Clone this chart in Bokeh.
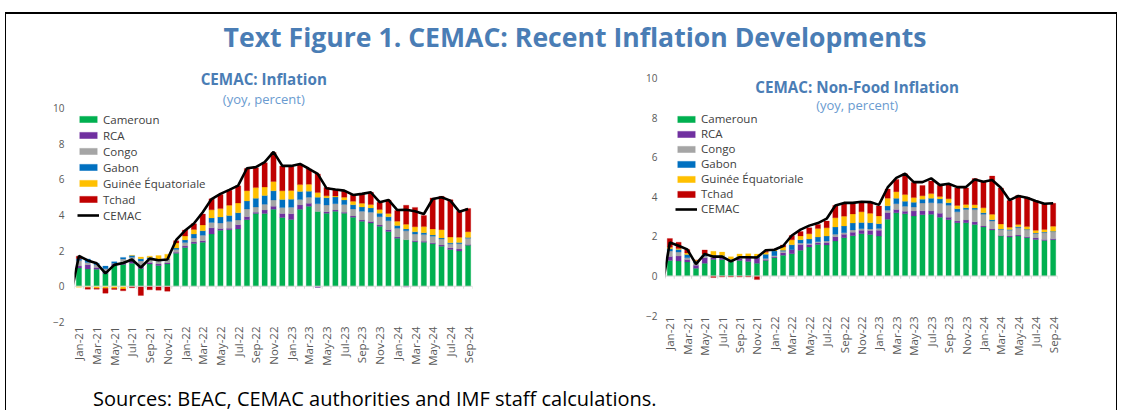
import numpy as np
from bokeh.plotting import figure
from bokeh.models import Range1d, FixedTicker, Label, Div, Legend, LegendItem
from bokeh.layouts import column, row
from bokeh.embed import file_html
from bokeh.resources import INLINE

months = ["Jan-21", "Feb-21", "Mar-21", "Apr-21", "May-21", "Jun-21", "Jul-21", "Aug-21", "Sep-21", "Oct-21", "Nov-21", "Dec-21",
          "Jan-22", "Feb-22", "Mar-22", "Apr-22", "May-22", "Jun-22", "Jul-22", "Aug-22", "Sep-22", "Oct-22", "Nov-22", "Dec-22",
          "Jan-23", "Feb-23", "Mar-23", "Apr-23", "May-23", "Jun-23", "Jul-23", "Aug-23", "Sep-23", "Oct-23", "Nov-23", "Dec-23",
          "Jan-24", "Feb-24", "Mar-24", "Apr-24", "May-24", "Jun-24", "Jul-24", "Aug-24", "Sep-24"]

series_names = ["Cameroun", "RCA", "Congo", "Gabon", "Guinée Équatoriale", "Tchad"]
series_colors = ["#00B050", "#7030A0", "#A5A5A5", "#0070C0", "#FFC000", "#C00000"]

# ---- Headline inflation (left) ----
cameroun_all = [1.03, 0.97, 0.95, 0.72, 1.16, 1.22, 1.29, 0.99, 1.25, 1.16, 1.25, 1.85, 2.17, 2.40, 2.47, 2.94, 3.14, 3.17, 3.22, 3.74, 4.08, 4.08, 4.33,
                3.86, 3.75, 4.33, 4.49, 4.20, 4.10, 4.21, 4.10, 3.88, 3.65, 3.55, 3.37, 3.07, 2.70, 2.61, 2.50, 2.47, 2.38, 2.25, 2.07, 1.98, 2.30]
rca_all = [0.11, 0.24, 0.10, 0.17, 0.09, 0.09, 0.15, 0.13, 0.09, 0.09, 0.06, 0.06, 0.09, 0.09, 0.09, 0.34, 0.11, 0.09, 0.24, 0.17, 0.07, 0.20, 0.17,
           0.22, 0.32, 0.24, 0.17, -0.07, 0.09, 0.07, 0.06, 0.07, 0.07, 0.09, 0.07, 0.11, 0.06, -0.05, 0.06, 0.06, 0.06, 0.06, 0.09, 0.11, 0.04]
congo_all = [0.30, 0.13, 0.15, 0.09, 0.04, 0.22, 0.19, 0.30, 0.19, 0.19, 0.20, 0.15, 0.19, 0.22, 0.30, 0.30, 0.30, 0.37, 0.26, 0.43, 0.30, 0.32, 0.34,
             0.34, 0.37, 0.30, 0.34, 0.43, 0.37, 0.36, 0.43, 0.39, 0.49, 0.52, 0.47, 0.50, 0.50, 0.50, 0.37, 0.37, 0.37, 0.34, 0.22, 0.30, 0.36]
gabon_all = [0.10, 0.19, 0.09, 0.15, 0.09, 0.09, 0.09, 0.13, 0.09, 0.04, 0.03, 0.09, 0.15, 0.22, 0.26, 0.26, 0.34, 0.34, 0.41, 0.45, 0.49, 0.50, 0.52,
             0.45, 0.45, 0.45, 0.34, 0.37, 0.41, 0.37, 0.26, 0.24, 0.24, 0.24, 0.19, 0.22, 0.15, 0.11, 0.13, 0.11, 0.07, 0.06, 0.06, 0.06, 0.04]
guinee_all = [-0.06, -0.07, -0.11, -0.11, -0.11, -0.15, 0.02, 0.09, 0.07, 0.24, 0.26, 0.28, 0.22, 0.26, 0.32, 0.45, 0.47, 0.58, 0.54, 0.58, 0.60, 0.47, 0.52,
              0.49, 0.49, 0.39, 0.39, 0.26, 0.11, 0.06, 0.15, 0.19, 0.21, 0.19, 0.21, 0.19, 0.24, 0.26, 0.28, 0.34, 0.34, 0.47, 0.32, 0.30, 0.32]
tchad_all = [0.15, -0.10, -0.06, -0.28, -0.07, -0.11, -0.09, -0.52, -0.20, -0.22, -0.28, 0.13, 0.34, 0.32, 0.62, 0.62, 0.80, 0.84, 0.97, 1.25, 1.12, 1.37, 1.63,
             1.39, 1.39, 1.14, 0.86, 1.05, 0.47, 0.34, 0.34, 0.36, 0.52, 0.69, 0.41, 0.75, 0.60, 1.07, 1.09, 0.62, 1.74, 1.87, 2.10, 1.46, 1.31]
cemac_all = [1.70, 1.45, 1.29, 0.72, 1.20, 1.31, 1.50, 1.05, 1.55, 1.46, 1.50, 2.60, 3.13, 3.52, 4.16, 4.90, 5.19, 5.41, 5.65, 6.63, 6.69, 6.97, 7.55,
             6.76, 6.76, 6.87, 6.60, 6.31, 5.50, 5.43, 5.37, 5.13, 5.19, 5.28, 4.72, 4.85, 4.28, 4.30, 4.21, 4.06, 4.90, 5.00, 4.81, 4.19, 4.34]
cemac_all_dec20 = -0.7

# ---- Non-food inflation (right) ----
cameroun_nf = [0.79, 0.76, 0.71, 0.39, 0.64, 0.84, 0.83, 0.71, 0.79, 0.73, 0.64, 0.78, 0.93, 1.05, 1.13, 1.30, 1.47, 1.60, 1.57, 1.77, 1.94, 2.04, 2.14,
               2.10, 2.02, 2.87, 3.20, 3.15, 3.04, 3.10, 3.12, 2.98, 2.85, 2.70, 2.70, 2.61, 2.48, 2.33, 2.02, 1.97, 2.02, 1.94, 1.85, 1.80, 1.84]
rca_nf = [0.20, 0.25, 0.13, 0.15, 0.29, 0.08, 0.10, 0.04, 0.10, 0.20, 0.27, 0.05, 0.05, 0.13, 0.20, 0.30, 0.13, 0.08, 0.12, 0.22, 0.17, 0.17, 0.17,
          0.20, 0.29, 0.34, 0.17, 0.13, 0.25, 0.20, 0.17, 0.20, 0.13, 0.08, 0.13, 0.13, 0.05, 0.05, 0.03, 0.05, 0.05, 0.05, 0.08, 0.05, 0.05]
congo_nf = [0.27, 0.20, 0.08, 0.13, 0.08, 0.08, 0.08, 0.08, 0.07, 0.05, 0.00, 0.05, 0.05, 0.07, -0.03, 0.07, 0.05, 0.05, 0.08, 0.12, 0.08, 0.12, 0.08,
            0.08, 0.10, 0.12, 0.29, 0.25, 0.20, 0.39, 0.42, 0.50, 0.60, 0.47, 0.54, 0.62, 0.59, 0.40, 0.30, 0.30, 0.37, 0.35, 0.22, 0.35, 0.35]
gabon_nf = [0.12, 0.13, 0.17, 0.08, 0.08, 0.05, 0.03, 0.02, 0.03, 0.03, 0.10, 0.22, 0.24, 0.05, 0.25, 0.17, 0.22, 0.24, 0.25, 0.37, 0.34, 0.35, 0.32,
            0.32, 0.24, 0.22, 0.27, 0.25, 0.24, 0.20, 0.22, 0.22, 0.13, 0.15, 0.08, 0.08, 0.08, 0.07, 0.03, 0.03, 0.05, 0.03, 0.03, 0.03, 0.03]
guinee_nf = [0.08, 0.05, 0.08, 0.05, 0.03, 0.20, 0.17, 0.13, 0.13, 0.12, 0.10, 0.10, 0.08, 0.17, 0.25, 0.19, 0.27, 0.44, 0.42, 0.47, 0.50, 0.46, 0.54,
             0.47, 0.39, 0.39, 0.34, 0.34, 0.24, 0.17, 0.24, 0.13, 0.20, 0.17, 0.17, 0.17, 0.25, 0.27, 0.25, 0.12, 0.12, 0.13, 0.13, 0.13, 0.25]
tchad_nf = [0.44, 0.32, 0.17, 0.00, 0.20, -0.08, -0.05, -0.05, -0.05, -0.05, -0.18, 0.05, 0.00, 0.10, 0.22, 0.22, 0.30, 0.20, 0.34, 0.62, 0.62, 0.54, 0.50,
            0.57, 0.50, 0.46, 0.62, 1.05, 0.76, 0.52, 0.64, 0.56, 0.74, 0.89, 0.84, 1.32, 1.35, 1.94, 1.82, 1.35, 1.47, 1.48, 1.50, 1.28, 1.16]
cemac_nf = [1.70, 1.53, 1.35, 0.60, 1.12, 0.98, 0.98, 0.74, 0.95, 0.95, 0.94, 1.30, 1.33, 1.52, 2.05, 2.35, 2.55, 2.68, 2.90, 3.57, 3.70, 3.70, 3.76,
            3.74, 3.60, 4.48, 4.97, 5.18, 4.75, 4.75, 4.94, 4.60, 4.67, 4.50, 4.50, 4.89, 4.77, 4.86, 4.47, 3.84, 4.05, 3.96, 3.80, 3.66, 3.68]
cemac_nf_dec20 = -0.85

y_ticks = [-2, 0, 2, 4, 6, 8, 10]
FONT = "Open Sans"
TITLE_BLUE = "#4A7DB5"
SUB_BLUE = "#6A9BD0"


def make_chart(series, cemac, cemac_lead, title, ytop, fw, fh, mbl, mbr, mbt, mbb,
               legend_xy, item_h, title_x, title_y, sub_y, title_size, sub_size, ystandoff, xstandoff):
    n = len(months)
    x = np.arange(n)
    p = figure(frame_width=fw, frame_height=fh, min_border_left=mbl, min_border_right=mbr,
               min_border_top=mbt, min_border_bottom=mbb, x_range=Range1d(-0.5, n - 0.5),
               y_range=Range1d(-2.15, ytop), output_backend="svg", toolbar_location=None,
               background_fill_color="white", border_fill_color="white")
    p.outline_line_color = None
    p.grid.visible = False

    pos = np.zeros(n)
    neg = np.zeros(n)
    items = []
    for name, col, vals in zip(series_names, series_colors, series):
        v = np.array(vals, dtype=float)
        bottom = np.where(v >= 0, pos, neg)
        top = bottom + v
        pos = np.where(v >= 0, pos + v, pos)
        neg = np.where(v < 0, neg + v, neg)
        r = p.vbar(x=x, bottom=bottom, top=top, width=0.6, fill_color=col, line_color=col, line_alpha=0.25, line_width=1)
        items.append(LegendItem(label=name, renderers=[r]))

    # zero axis line and tick marks between categories
    edges = np.arange(n + 1) - 0.5
    p.segment(x0=[-0.5], y0=[0], x1=[n - 0.5], y1=[0], line_color="#D9D9D9", line_width=1)
    p.segment(x0=edges, y0=np.zeros(n + 1), x1=edges, y1=np.full(n + 1, -0.14), line_color="#D9D9D9", line_width=1)

    lx = np.concatenate([[-1], x])
    ly = np.concatenate([[cemac_lead], cemac])
    rl = p.line(lx, ly, line_color="black", line_width=2.6)
    items.append(LegendItem(label="CEMAC", renderers=[rl]))

    leg = Legend(items=items, location=legend_xy, orientation="vertical")
    leg.background_fill_alpha = 0
    leg.border_line_color = None
    leg.padding = 0
    leg.margin = 0
    leg.spacing = 0
    leg.glyph_width = 22
    leg.glyph_height = 8
    leg.label_height = item_h
    leg.label_standoff = 4
    leg.label_text_font = FONT
    leg.label_text_font_size = "11.5px"
    leg.label_text_color = "#404040"
    leg.label_text_baseline = "middle"
    p.add_layout(leg, "center")

    p.add_layout(Label(x=title_x, y=title_y, text=title, text_align="center", text_baseline="middle",
                       text_font=FONT, text_font_style="bold", text_font_size=title_size, text_color=TITLE_BLUE))
    p.add_layout(Label(x=title_x, y=sub_y, text="(yoy, percent)", text_align="center", text_baseline="middle",
                       text_font=FONT, text_font_size=sub_size, text_color=SUB_BLUE))

    p.yaxis.ticker = FixedTicker(ticks=y_ticks)
    p.yaxis.axis_line_color = None
    p.yaxis.major_tick_line_color = None
    p.yaxis.major_tick_out = 0
    p.yaxis.major_tick_in = 0
    p.yaxis.minor_tick_line_color = None
    p.yaxis.major_label_standoff = ystandoff
    p.yaxis.major_label_text_font = FONT
    p.yaxis.major_label_text_font_size = "10px"
    p.yaxis.major_label_text_color = "#595959"

    p.xaxis.ticker = FixedTicker(ticks=list(range(0, n, 2)))
    p.xaxis.major_label_overrides = {i: months[i] for i in range(0, n, 2)}
    p.xaxis.major_label_orientation = np.pi / 2
    p.xaxis.axis_line_color = None
    p.xaxis.major_tick_line_color = None
    p.xaxis.major_tick_out = 0
    p.xaxis.major_tick_in = 0
    p.xaxis.minor_tick_line_color = None
    p.xaxis.major_label_standoff = xstandoff
    p.xaxis.major_label_text_font = FONT
    p.xaxis.major_label_text_font_size = "11.5px"
    p.xaxis.major_label_text_color = "#595959"
    return p


p1 = make_chart([cameroun_all, rca_all, congo_all, gabon_all, guinee_all, tchad_all], cemac_all, cemac_all_dec20,
                "CEMAC: Inflation", 12.12, 398, 254, 68, 88, 10, 46, (3, 101), 16,
                20.9, 11.66, 10.52, "15.2px", "13px", 10, 2)
p2 = make_chart([cameroun_nf, rca_nf, congo_nf, gabon_nf, guinee_nf, tchad_nf], cemac_nf, cemac_nf_dec20,
                "CEMAC: Non-Food Inflation", 10.4, 392, 248, 105, 59, 10, 52, (10, 102), 15,
                21.5, 9.56, 8.65, "15.2px", "13px", 8, -2)

title_div = Div(text='<div style="text-align:center; padding-left:28px; line-height:46px; font-family:\'Open Sans\'; font-size:26.6px; '
                     'font-weight:700; color:#4A7DB5; width:1110px; box-sizing:border-box; white-space:nowrap;">Text Figure 1. CEMAC: Recent Inflation Developments</div>',
                width=1110, height=46, margin=0)
src_div = Div(text='<div style="padding-left:87px; padding-top:17px; font-family:\'Open Sans\'; font-size:20px; '
                   'line-height:23px; color:#000000; white-space:nowrap;">Sources: BEAC, CEMAC authorities and IMF staff calculations.</div>',
              width=1110, height=40, margin=0)

layout = column(title_div, row(p1, p2), src_div,
                styles={"border-top": "2px solid black", "border-left": "1px solid black",
                        "border-right": "1px solid black", "margin-top": "12px", "margin-left": "5px"})

open("out.html", "w").write(file_html(layout, INLINE))
